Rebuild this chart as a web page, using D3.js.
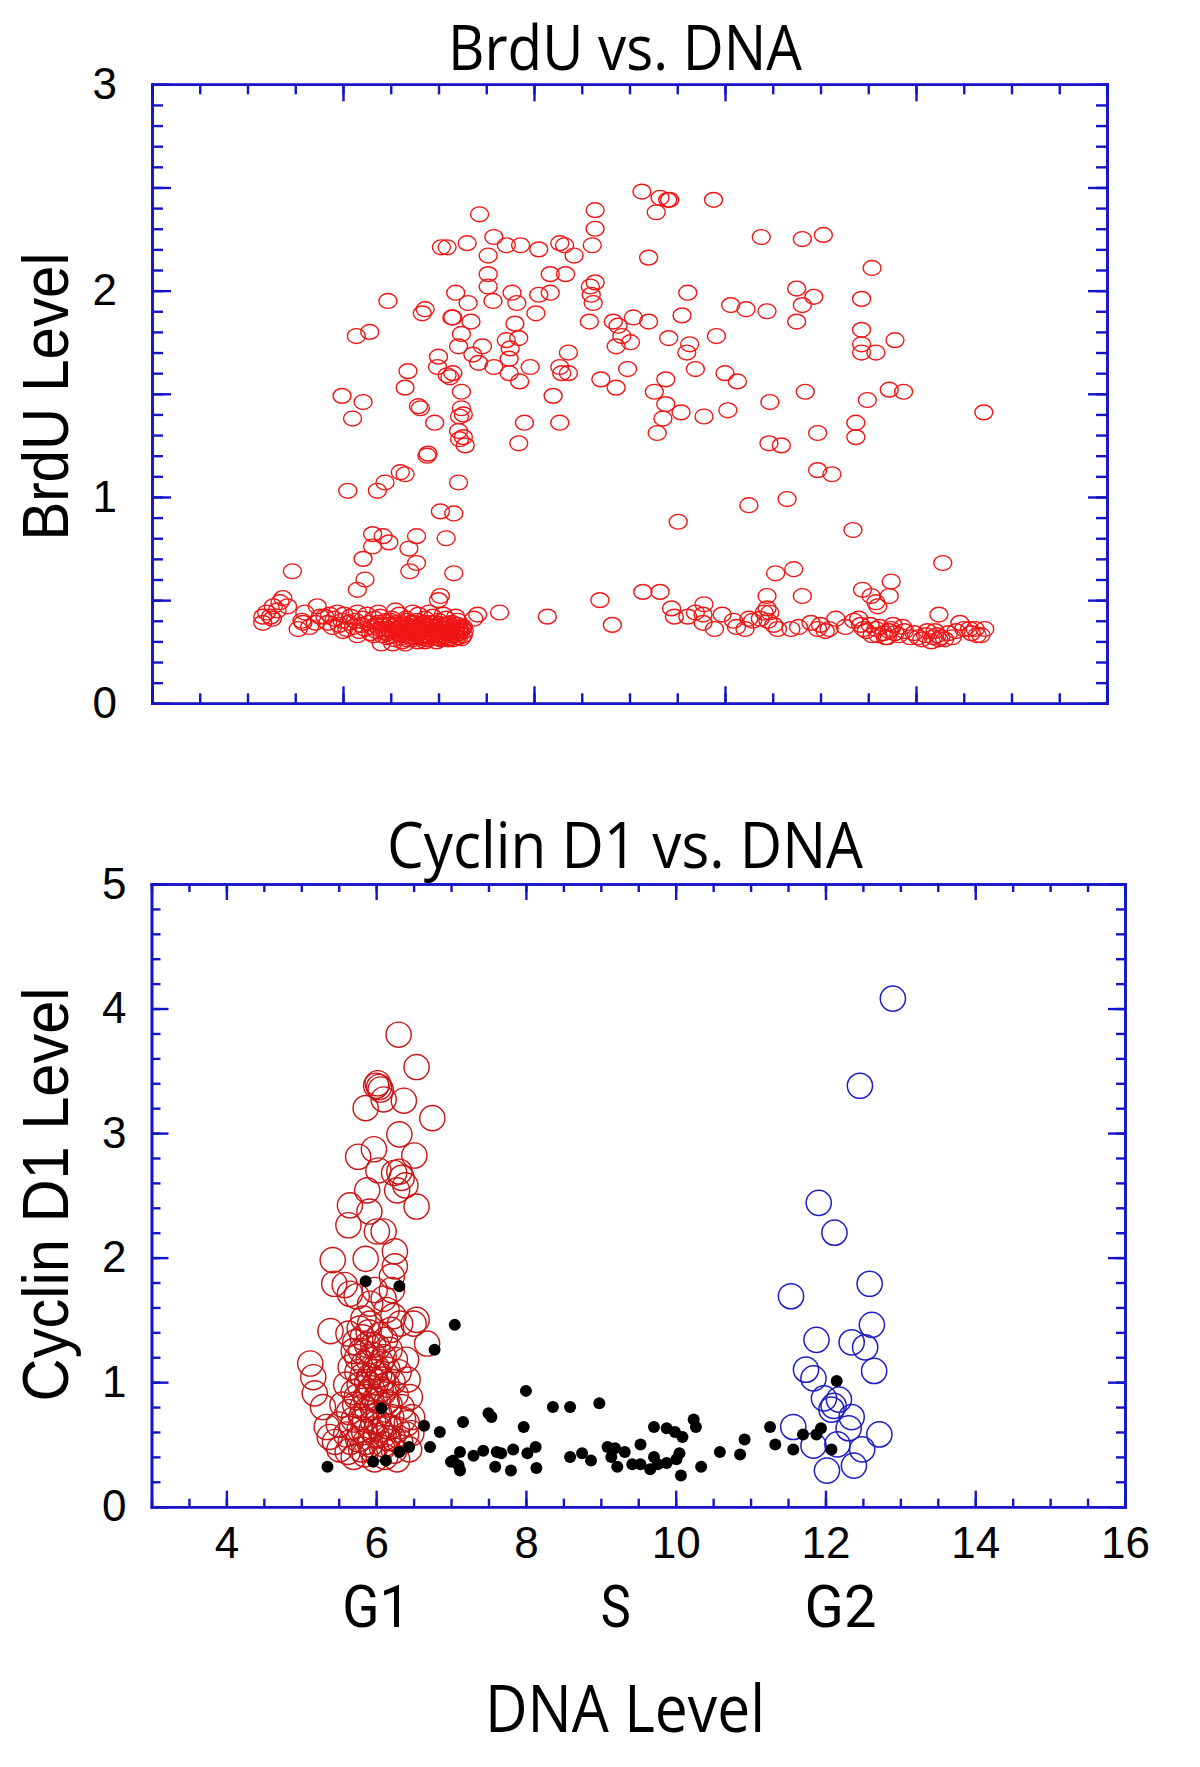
<!DOCTYPE html>
<html><head><meta charset="utf-8">
<script src="https://cdn.jsdelivr.net/npm/d3@7"></script>
<style>body{margin:0;background:#fff}svg{display:block}</style>
</head><body>
<svg id="chart" width="1200" height="1767"></svg>
<script>
// ---------------- DATA ----------------
// Top panel: BrdU level vs DNA level (DNA in arbitrary channel units 0-1000, no labels)
const brduScatter = [
[343,2.37],[303,2.21],[309,2.21],[330,2.23],[358,2.26],[371,2.22],[386,2.22],[405,2.20],[352,2.17],[427,2.23],[432,2.22],[442,2.17],[464,2.39],[464,2.30],[461,2.22],[513,2.48],[532,2.45],[540,2.44],[542,2.44],[528,2.38],[588,2.44],[520,2.16],[638,2.26],[681,2.25],[703,2.27],[754,2.11],
[352,2.08],[352,2.02],[357,1.95],[318,1.99],[331,1.94],[247,1.95],[377,1.99],[382,1.94],[405,1.98],[417,1.99],[417,2.08],[433,2.08],[402,1.89],[459,2.02],[464,2.04],[460,1.98],[462,1.94],[458,1.85],[286,1.91],[283,1.89],[315,1.87],[314,1.87],[324,1.79],[334,1.85],[380,1.84],[384,1.77],[371,1.76],[375,1.72],[374,1.67],[321,1.73],[346,1.73],[336,1.69],[342,1.65],[300,1.68],[299,1.63],[309,1.59],[315,1.60],[312,1.58],[358,1.63],[374,1.60],[385,1.56],[396,1.63],[436,1.70],[427,1.63],[429,1.60],[436,1.60],[268,1.61],[265,1.53],[324,1.51],[420,1.49],[279,1.44],[281,1.43],[324,1.43],[326,1.40],[322,1.39],[321,1.32],[326,1.29],[328,1.25],[322,1.28],[296,1.36],[390,1.36],[427,1.36],[384,1.26],[289,1.21],[288,1.20],[260,1.12],[265,1.11],[244,1.07],[321,1.07],
[483,1.85],[488,1.83],[504,1.87],[520,1.85],[492,1.78],[501,1.75],[486,1.73],[555,1.88],[561,1.99],[541,1.77],[563,1.74],[560,1.70],[569,1.62],[591,1.78],[498,1.62],[470,1.57],[486,1.53],[538,1.57],[526,1.51],[538,1.45],[554,1.41],[535,1.38],[529,1.31],[578,1.39],[603,1.42],[600,1.60],[613,1.56],[606,1.93],[622,1.91],[644,1.90],[675,2.01],[693,1.97],[681,1.93],[675,1.85],[743,1.96],[743,1.81],[743,1.74],[743,1.70],[758,1.70],[778,1.76],[647,1.46],[684,1.51],[749,1.47],[697,1.31],[737,1.36],[737,1.29],[646,1.26],[659,1.25],[697,1.13],[712,1.11],[772,1.52],[787,1.51],[871,1.41],
[665,0.99],[625,0.96],[551,0.88],[734,0.84],[828,0.68],[653,0.63],[672,0.65],[774,0.59],[514,0.54],[532,0.54],[744,0.55],[753,0.52],[758,0.49],[760,0.47],[772,0.52],[681,0.52],[644,0.52],[644,0.46],[647,0.44],[469,0.50],[482,0.38],[824,0.43],[414,0.42],[364,0.44],[341,0.43],[337,0.41],[326,0.37],[322,0.355],
[214,1.78],[228,1.80],[199,1.49],[210,1.38],[221,1.46],[205,1.03],[236,1.03],[302,0.93],[316,0.92],[231,0.82],[242,0.81],[248,0.78],[231,0.76],[277,0.81],[269,0.75],[308,0.80],[221,0.70],[277,0.68],[270,0.64],[147,0.64],[223,0.60],[215,0.55],[316,0.63],[302,0.52],[300,0.50]
];
const brduG1 = [
[116,0.42],[120,0.44],[126,0.41],[116,0.39],[127,0.47],[137,0.51],[134,0.49],[142,0.47],[131,0.45],[124,0.42],[153,0.36],[157,0.40],[158,0.39],[160,0.44],[165,0.37],[173,0.47],[176,0.42],[171,0.39],
[181,0.42],[184,0.39],[186,0.43],[189,0.37],[191,0.41],[194,0.44],[196,0.38],[199,0.40],[201,0.43],[204,0.36],[206,0.39],[208,0.42],[211,0.37],[213,0.40],[215,0.44],[217,0.35],[219,0.38],[221,0.41],[223,0.36],[225,0.43],[227,0.39],[229,0.34],[231,0.37],[233,0.41],[235,0.35],[237,0.39],[239,0.42],[241,0.33],[243,0.36],[245,0.40],[247,0.34],[249,0.38],[251,0.41],[253,0.33],[255,0.36],[257,0.39],[259,0.43],[261,0.32],[262,0.35],[264,0.38],[266,0.41],[268,0.33],[269,0.36],[271,0.39],[273,0.31],[274,0.34],[276,0.37],[278,0.40],[279,0.43],[281,0.32],[283,0.35],[284,0.38],[286,0.41],[288,0.31],[289,0.33],[291,0.36],[292,0.39],[294,0.42],[296,0.32],[297,0.34],[299,0.37],[300,0.40],[302,0.31],[303,0.33],[305,0.36],[306,0.38],[308,0.41],[309,0.32],[311,0.34],[312,0.37],[314,0.39],[315,0.31],[317,0.33],[318,0.36],[320,0.38],[321,0.32],[323,0.35],[324,0.37],[326,0.33],[240,0.29],[262,0.30],[237,0.44],[255,0.45],[273,0.44],[290,0.44],[305,0.43],[318,0.42],[200,0.35],[215,0.33],
[232,0.33],[234,0.38],[238,0.36],[242,0.38],[246,0.32],[248,0.36],[252,0.35],[254,0.31],[256,0.38],[258,0.34],[260,0.37],[263,0.33],[265,0.36],[267,0.31],[270,0.35],[272,0.37],[275,0.32],[277,0.35],[280,0.34],[282,0.37],[285,0.33],[287,0.36],[290,0.32],[293,0.35],[295,0.37],[298,0.33],[301,0.35],[304,0.32],[307,0.34],[310,0.36],[313,0.33],[316,0.35],[319,0.32],[322,0.34],[325,0.36],[327,0.35],[286,0.30],[298,0.30],[310,0.31],[275,0.39],[285,0.39],[296,0.39],[308,0.38],[266,0.40],[250,0.40],[320,0.40],[278,0.30],[265,0.29],[252,0.29],
[244,0.345],[249,0.325],[257,0.355],[261,0.335],[266,0.345],[271,0.325],[276,0.345],[281,0.355],[284,0.315],[289,0.345],[292,0.325],[296,0.355],[300,0.315],[303,0.345],[306,0.325],[309,0.345],[312,0.315],[315,0.335],[318,0.345],[321,0.365],[324,0.315],[269,0.375],[279,0.365],[291,0.375],[301,0.385],[311,0.385],[259,0.365],[283,0.325],[297,0.365],[313,0.355]
];
const brduG2 = [
[544,0.46],[547,0.42],[561,0.42],[569,0.44],[578,0.48],[577,0.43],[577,0.39],[589,0.36],[597,0.43],[609,0.40],[621,0.36],[629,0.40],[637,0.41],[641,0.44],[645,0.40],[651,0.38],[669,0.36],[677,0.37],[697,0.36],[705,0.35],[709,0.36],[716,0.41],[726,0.37],[742,0.38],[745,0.36],[754,0.33],[758,0.36],[766,0.34],[768,0.32],[774,0.36],[778,0.34],[786,0.37],[794,0.32],[802,0.32],[810,0.33],[818,0.32],[822,0.33],[826,0.32],[834,0.34],[842,0.35],[846,0.39],[856,0.36],[858,0.34],[868,0.33],[872,0.36],
[748,0.35],[752,0.38],[760,0.33],[762,0.37],[770,0.32],[772,0.35],[776,0.38],[782,0.33],[788,0.35],[798,0.34],[806,0.31],[812,0.35],[816,0.30],[820,0.35],[824,0.31],[830,0.31],[838,0.32],[850,0.36],[862,0.36],[864,0.33],[740,0.41],[735,0.40],[700,0.38],[690,0.39],[655,0.36],[625,0.41],[612,0.37]
];

// Bottom panel: Cyclin D1 level vs DNA level
const cyclinG1 = [
[6.30,3.79],[6.54,3.53],[6.02,3.40],[6.04,3.37],[6.06,3.35],[6.00,3.38],[5.86,3.20],[6.10,3.27],[6.37,3.26],[6.75,3.12],[6.31,2.99],[5.97,2.87],[5.76,2.81],[6.51,2.82],[6.03,2.70],[6.24,2.68],[6.31,2.69],[6.34,2.64],[6.39,2.58],[6.28,2.54],[5.88,2.54],[5.65,2.42],[5.91,2.37],[6.54,2.41],[5.63,2.26],[6.01,2.21],[6.10,2.21],[6.25,2.05],[5.86,1.99],[5.42,1.98],[6.25,1.93],[5.44,1.79],[5.58,1.78],[5.65,1.71],[5.74,1.69],[5.98,1.74],[6.10,1.67],[6.21,1.85],[6.21,1.74],[5.92,1.63],[6.50,1.47],[6.54,1.50],[5.39,1.41],[5.63,1.39],[5.83,1.51],[5.92,1.47],[6.14,1.58],[6.23,1.53],[6.32,1.47],[6.68,1.31],[5.12,1.15],[5.16,1.04],[5.18,0.91],[5.29,0.80],[5.34,0.64],[5.38,0.56],[5.51,0.46],
[5.72,1.32],[5.80,1.25],[5.88,1.30],[5.95,1.22],[6.02,1.28],[6.10,1.20],[6.18,1.26],[6.25,1.18],[5.66,1.12],[5.75,1.08],[5.84,1.15],[5.92,1.05],[6.00,1.12],[6.08,1.02],[6.15,1.10],[6.22,1.00],[6.30,1.08],[5.60,0.98],[5.70,0.92],[5.78,0.98],[5.86,0.88],[5.94,0.95],[6.02,0.85],[6.10,0.92],[6.18,0.82],[6.26,0.90],[6.34,0.80],[5.55,0.82],[5.64,0.76],[5.72,0.82],[5.80,0.72],[5.88,0.78],[5.96,0.68],[6.04,0.75],[6.12,0.65],[6.20,0.72],[6.28,0.62],[6.36,0.70],[5.50,0.66],[5.60,0.58],[5.68,0.64],[5.76,0.54],[5.84,0.60],[5.92,0.50],[6.00,0.57],[6.08,0.47],[6.16,0.55],[6.24,0.45],[6.32,0.52],[6.40,0.58],[5.62,0.44],[5.70,0.40],[5.85,0.42],[5.98,0.38],[6.12,0.40],[6.28,0.38],[6.44,0.46],[5.45,0.52],[6.45,0.88],[6.42,1.02],[6.40,1.18],[6.48,0.72],[5.90,1.40],[6.05,1.38],[5.78,1.43],[6.20,1.42],[6.00,1.00],[5.95,0.80],[6.05,0.62],[5.85,0.70],[6.41,0.67],[6.47,0.59],
[5.75,1.20],[5.82,1.05],[5.90,1.18],[5.98,1.08],[6.06,1.16],[6.14,0.98],[5.74,0.88],[5.82,0.80],[5.90,0.92],[5.98,0.86],[6.06,0.94],[6.14,0.84],[5.70,0.70],[5.78,0.62],[5.86,0.52],[5.94,0.62],[6.02,0.68],[6.10,0.58],[6.18,0.64],[5.66,0.52],[5.80,0.46],[5.95,0.45],[6.10,0.50],[6.22,0.55],[5.88,1.00],[6.04,1.06],[5.96,1.30],[6.12,1.34],[5.82,1.36],[5.70,1.25]
];
const cyclinG2 = [
[12.90,4.08],[12.46,3.38],[11.91,2.44],[12.12,2.20],[11.54,1.69],[12.59,1.79],[12.62,1.46],[11.88,1.34],[12.35,1.32],[12.53,1.28],[12.65,1.09],[11.74,1.10],[11.84,1.03],[11.98,0.87],[12.18,0.86],[12.08,0.78],[12.11,0.81],[12.35,0.72],[12.31,0.63],[11.57,0.64],[12.72,0.58],[11.84,0.49],[12.16,0.50],[12.49,0.46],[12.02,0.29],[12.38,0.33]
];
const cyclinS = [
[5.86,1.81],[6.31,1.77],[7.05,1.46],[6.78,1.26],[6.07,0.79],[5.35,0.32],[5.96,0.36],[6.13,0.37],[6.31,0.44],[6.44,0.48],[6.64,0.65],[6.85,0.60],[6.72,0.48],[7.16,0.68],[7.50,0.75],[7.54,0.72],[7.12,0.44],[7.03,0.37],[7.10,0.33],[7.12,0.29],[7.30,0.41],[7.43,0.45],[7.61,0.44],[7.59,0.32],
[8.00,0.93],[7.97,0.64],[8.36,0.80],[8.59,0.80],[8.98,0.83],[7.67,0.43],[7.83,0.46],[7.80,0.29],[8.02,0.43],[8.13,0.48],[8.14,0.31],[8.59,0.40],[8.75,0.43],[8.87,0.37],[7.00,0.36],
[9.09,0.48],[9.19,0.47],[9.32,0.44],[9.14,0.40],[9.22,0.32],[9.53,0.50],[9.71,0.64],[9.88,0.63],[9.99,0.60],[10.09,0.56],[10.24,0.70],[10.27,0.64],[10.05,0.43],[10.01,0.38],[9.71,0.40],[9.66,0.30],[9.76,0.34],[9.88,0.35],[9.42,0.34],[9.53,0.34],[10.07,0.25],[10.34,0.32],[10.59,0.44],[10.86,0.42],[10.92,0.54],[11.26,0.64],[11.33,0.50],[11.57,0.46],[11.70,0.58],[11.88,0.58],[11.94,0.63],[12.08,0.46],[12.15,1.01]
];

// Tick labels and text
const brduYLabels = [0,1,2,3];
const cyclinYLabels = [0,1,2,3,4,5];
const dnaXLabels = [4,6,8,10,12,14,16];
const phaseNames = ["G1","S","G2"];
const phasePos = [6,9.2,12.2];
const phaseWidths = [68,30,72];

// ---------------- DRAWING ----------------
const svg = d3.select("#chart");
const AXIS = "#1414c8";
const TICKFONT = "'Liberation Sans', Arial, Helvetica, sans-serif";
const TITLEFONT = "'Open Sans', 'Noto Sans', sans-serif";
const PHASEFONT = "Roboto, 'Open Sans', sans-serif";

const xTop = d3.scaleLinear().domain([0,1000]).range([152,1107]);
const yTop = d3.scaleLinear().domain([0,3]).range([703.3,84.3]);
const xBot = d3.scaleLinear().domain([3,16]).range([151.5,1125]);
const yBot = d3.scaleLinear().domain([0,5]).range([1506.7,884]);

function styleAxis(g){
  g.attr("color", AXIS).attr("font-size", 44).attr("font-family", TICKFONT);
  g.selectAll("path.domain").attr("stroke-width", 2.6).attr("stroke-linecap","square");
  g.selectAll(".tick line").attr("stroke-width", 2.4);
  g.selectAll(".tick text").attr("fill", "#000");
}
function frame(x, y, o){
  const [x0,x1] = x.range(), [y0,y1] = y.range();
  const sides = [
    {ax: d3.axisLeft, sc: y, tr: `translate(${x0},0)`, minor: o.yMinor, major: o.yMajor, lab: o.yLab, pad: o.yPad, ml: o.yMajLen, nl: o.yMinLen},
    {ax: d3.axisRight, sc: y, tr: `translate(${x1},0)`, minor: o.yMinor, major: o.yMajor, lab: null, ml: o.yMajLen, nl: o.yMinLen},
    {ax: d3.axisBottom, sc: x, tr: `translate(0,${y0})`, minor: o.xMinor, major: o.xMajor, lab: o.xLab, pad: o.xPad, ml: o.xMajLen, nl: o.xMinLen},
    {ax: d3.axisTop, sc: x, tr: `translate(0,${y1})`, minor: o.xMinor, major: o.xMajor, lab: null, ml: o.xMajLen, nl: o.xMinLen}
  ];
  sides.forEach(s => {
    svg.append("g").attr("transform", s.tr)
      .call(s.ax(s.sc).tickValues(s.minor).tickSize(-s.nl).tickSizeOuter(0).tickFormat(""))
      .call(styleAxis);
    svg.append("g").attr("transform", s.tr)
      .call(s.ax(s.sc).tickValues(s.major).tickSize(-s.ml).tickSizeOuter(0).tickPadding(s.pad || 0)
        .tickFormat(d => (s.lab && s.lab.includes(+d.toFixed(3))) ? d3.format("d")(d) : ""))
      .call(styleAxis);
  });
}
const rng = (a,b,s) => d3.range(Math.round(a/s), Math.round(b/s)+1).map(i => +(i*s).toFixed(3));

// Top frame
frame(xTop, yTop, {
  yMinor: rng(0,3,0.1), yMajor: rng(0,3,0.5), yLab: brduYLabels, yPad: 35, yMajLen: 19, yMinLen: 11,
  xMinor: rng(0,1000,50), xMajor: rng(0,1000,200), xLab: null, xMajLen: 17, xMinLen: 10
});
// Bottom frame
frame(xBot, yBot, {
  yMinor: rng(0,5,0.2), yMajor: rng(0,5,1), yLab: cyclinYLabels, yPad: 25, yMajLen: 17, yMinLen: 9,
  xMinor: rng(3,16,0.5), xMajor: rng(4,16,2), xLab: dnaXLabels, xPad: 20, xMajLen: 16, xMinLen: 8
});

// Top marks
const topG = svg.append("g");
topG.selectAll("ellipse").data(brduScatter.concat(brduG1, brduG2)).join("ellipse")
  .attr("cx", d => xTop(d[0])).attr("cy", d => yTop(d[1]))
  .attr("rx", 9).attr("ry", 7.4)
  .attr("fill", "none").attr("stroke", "#f01616").attr("stroke-width", 1.4);

// Bottom marks
const botG = svg.append("g");
botG.append("g").selectAll("circle").data(cyclinG1).join("circle")
  .attr("cx", d => xBot(d[0])).attr("cy", d => yBot(d[1])).attr("r", 12.6)
  .attr("fill", "none").attr("stroke", "#c81414").attr("stroke-width", 1.4);
botG.append("g").selectAll("circle").data(cyclinG2).join("circle")
  .attr("cx", d => xBot(d[0])).attr("cy", d => yBot(d[1])).attr("r", 12.6)
  .attr("fill", "none").attr("stroke", "#1e1ec4").attr("stroke-width", 1.5);
botG.append("g").selectAll("circle").data(cyclinS).join("circle")
  .attr("cx", d => xBot(d[0])).attr("cy", d => yBot(d[1])).attr("r", 6)
  .attr("fill", "#000");

// Titles and labels
function label(txt, x, y, size, len, font, rot){
  const t = svg.append("text").text(txt)
    .attr("font-family", font).attr("font-size", size).attr("fill", "#000")
    .attr("text-anchor", "middle")
    .attr("textLength", len).attr("lengthAdjust", "spacingAndGlyphs");
  if (rot) t.attr("transform", `translate(${x},${y}) rotate(-90)`);
  else t.attr("x", x).attr("y", y);
  return t;
}
label("BrdU vs. DNA", 625, 69.5, 62, 354, TITLEFONT);
label("Cyclin D1 vs. DNA", 625, 867.5, 64, 476, TITLEFONT);
label("BrdU Level", 68, 396.6, 64, 288, TICKFONT, true);
label("Cyclin D1 Level", 68, 1194.4, 64, 414, TICKFONT, true);
phaseNames.forEach((p,i) => label(p, xBot(phasePos[i]), 1627, 60, phaseWidths[i], PHASEFONT));
label("DNA Level", 625, 1731.5, 65, 280, TITLEFONT);
</script>
</body></html>
